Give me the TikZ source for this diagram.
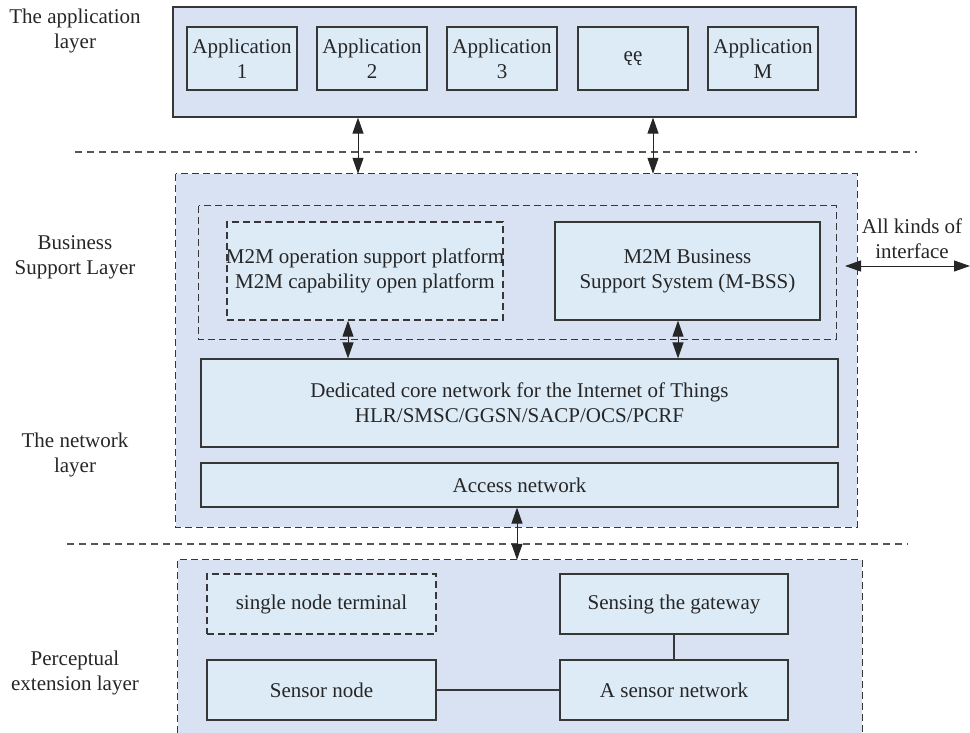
\documentclass[tikz,border=0pt]{standalone}
\usepackage{fontspec}
\setmainfont{Liberation Serif}
\usetikzlibrary{arrows.meta,calc}
\definecolor{outerfill}{RGB}{217,226,242}
\definecolor{innerfill}{RGB}{221,235,247}
\definecolor{edge}{RGB}{55,55,55}
\definecolor{dashgray}{RGB}{85,85,85}
\tikzset{
  txt/.style={font=\fontsize{21}{25}\selectfont, align=center, text=black!85, inner sep=0pt},
  layerbox/.style={draw=edge, fill=outerfill, line width=1.2pt, inner sep=0pt},
  layerfill/.style={fill=outerfill, inner sep=0pt},
  sbox/.style={draw=edge, fill=innerfill, line width=1.2pt, inner sep=0pt, txt},
  dbox/.style={draw=edge, fill=innerfill, line width=1.3pt, inner sep=0pt, dash pattern=on 7pt off 4pt, txt},
  dframe/.style={draw=edge, line width=1.3pt, dash pattern=on 7pt off 4pt},
  sepline/.style={draw=dashgray, line width=1.3pt, dash pattern=on 7pt off 5pt},
  biarrow/.style={draw=black!85, line width=1pt, {Triangle[length=16pt,width=11pt]}-{Triangle[length=16pt,width=11pt]}},
  conn/.style={draw=edge, line width=1.2pt},
  lbl/.style={txt}
}
\begin{document}
\begin{tikzpicture}[x=1pt,y=-1pt]
\useasboundingbox (0,0) rectangle (970,733);

% application layer
\node[layerbox, minimum width=683pt, minimum height=110pt] (applayer) at (514.5,62) {};
\node[sbox, minimum width=110pt, minimum height=63pt] (app1) at (242,58.5) {Application\\1};
\node[sbox, minimum width=110pt, minimum height=63pt] (app2) at (372,58.5) {Application\\2};
\node[sbox, minimum width=110pt, minimum height=63pt] (app3) at (502,58.5) {Application\\3};
\node[sbox, minimum width=110pt, minimum height=63pt] (appd) at (633,58.5) {ęę};
\node[sbox, minimum width=110pt, minimum height=63pt] (appm) at (763,58.5) {Application\\M};

% separator lines
\coordinate (s1l) at (75,152);
\coordinate (s1r) at (917,152);
\coordinate (s2l) at (67,544);
\coordinate (s2r) at (908,544);
\draw[sepline] (s1l) -- (s1r);
\draw[sepline] (s2l) -- (s2r);

% support + network layer
\node[layerfill, minimum width=681pt, minimum height=353pt] (support) at (516.5,350.5) {};
\draw[dframe] (support.north west) rectangle (support.south east);
\node[minimum width=637pt, minimum height=133pt, inner sep=0pt] (inner) at (517.5,272.5) {};
\draw[dframe] (inner.north west) rectangle (inner.south east);
\node[dbox, minimum width=276pt, minimum height=98pt] (op) at (365,271) {};
\node[txt] (optext) at (op.center) {M2M operation support platform\\M2M capability open platform};
\node[sbox, minimum width=265pt, minimum height=98pt] (mbss) at (687.5,271) {M2M Business\\Support System (M-BSS)};
\node[sbox, minimum width=637pt, minimum height=88pt] (core) at (519.5,403) {Dedicated core network for the Internet of Things\\HLR/SMSC/GGSN/SACP/OCS/PCRF};
\node[sbox, minimum width=637pt, minimum height=44pt] (access) at (519.5,485) {Access network};

% perceptual extension layer
\node[layerfill, minimum width=684pt, minimum height=173pt] (perc) at (520,646.5) {};
\draw[dframe] (perc.south west) -- (perc.north west) -- (perc.north east) -- (perc.south east);
\node[dbox, minimum width=229pt, minimum height=60pt] (single) at (321.5,604) {single node terminal};
\node[sbox, minimum width=228pt, minimum height=60pt] (gateway) at (674,604) {Sensing the gateway};
\node[sbox, minimum width=229pt, minimum height=60pt] (snode) at (321.5,690) {Sensor node};
\node[sbox, minimum width=228pt, minimum height=60pt] (snet) at (674,690) {A sensor network};
\draw[conn] (snode.east) -- (snet.west);
\draw[conn] (gateway.south) -- (snet.north);

% arrows
\coordinate (xa) at (358,0);
\coordinate (xb) at (653,0);
\coordinate (xc) at (348,0);
\coordinate (xd) at (678,0);
\coordinate (xe) at (517,0);
\draw[biarrow] (applayer.south -| xa) -- (support.north -| xa);
\draw[biarrow] (applayer.south -| xb) -- (support.north -| xb);
\draw[biarrow] (op.south -| xc) -- (core.north -| xc);
\draw[biarrow] (mbss.south -| xd) -- (core.north -| xd);
\draw[biarrow] (access.south -| xe) -- (perc.north -| xe);
\coordinate (ifl) at (845,266);
\coordinate (ifr) at (970,266);
\draw[biarrow] (ifl) -- (ifr);
\node[lbl] (iflabel) at (912,239) {All kinds of\\interface};

% layer labels
\node[lbl] (l1) at (75,30.5) {The application\\layer};
\node[lbl] (l2) at (75,257.5) {Business\\Support Layer};
\node[lbl] (l3) at (75,455) {The network\\layer};
\node[lbl] (l4) at (75,673) {Perceptual\\extension layer};
\end{tikzpicture}
\end{document}
